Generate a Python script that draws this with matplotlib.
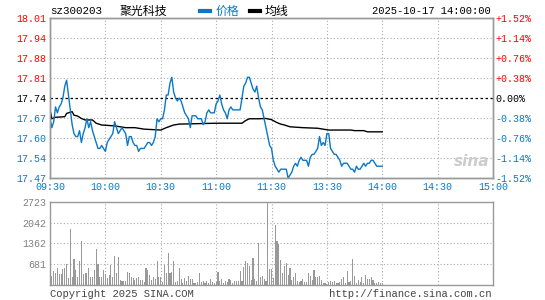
import matplotlib
matplotlib.use("Agg")
import matplotlib.pyplot as plt
import numpy as np

# ---------------- data ----------------
code = "sz300203"
name = "聚光科技"
timestamp = "2025-10-17 14:00:00"
prev_close = 17.74

price = [
    17.67, 17.64, 17.66, 17.71, 17.69, 17.71, 17.72, 17.74, 17.78, 17.80,
    17.75, 17.70, 17.65, 17.62, 17.61, 17.61, 17.63, 17.59, 17.62, 17.64,
    17.67, 17.64, 17.66, 17.63, 17.61, 17.59, 17.57, 17.57, 17.58, 17.57,
    17.56, 17.59, 17.60, 17.61, 17.62, 17.66, 17.64, 17.62, 17.63, 17.64,
    17.63, 17.62, 17.58, 17.61, 17.61, 17.59, 17.58, 17.58, 17.56, 17.57,
    17.57, 17.57, 17.58, 17.59, 17.59, 17.58, 17.59, 17.61, 17.67, 17.66,
    17.67, 17.67, 17.70, 17.75, 17.75, 17.79, 17.81, 17.76, 17.74, 17.73,
    17.74, 17.73, 17.71, 17.69, 17.68, 17.67, 17.64, 17.68, 17.68, 17.68,
    17.67, 17.67, 17.67, 17.65, 17.66, 17.69, 17.70, 17.69, 17.69, 17.69,
    17.72, 17.73, 17.75, 17.72, 17.70, 17.69, 17.67, 17.70, 17.71, 17.70,
    17.70, 17.70, 17.70, 17.70, 17.74, 17.78, 17.79, 17.81, 17.81, 17.79,
    17.77, 17.76, 17.78, 17.74, 17.71, 17.70, 17.67, 17.64, 17.61, 17.58,
    17.57, 17.53, 17.51, 17.50, 17.49, 17.50, 17.50, 17.50, 17.50, 17.47,
    17.48, 17.49, 17.51, 17.52, 17.51, 17.53, 17.54, 17.53, 17.53, 17.53,
    17.51, 17.54, 17.55, 17.55, 17.56, 17.57, 17.61, 17.58, 17.59, 17.58,
    17.62, 17.62, 17.57, 17.56, 17.55, 17.55, 17.54, 17.53, 17.51, 17.52,
    17.52, 17.52, 17.51, 17.50, 17.50, 17.49, 17.51, 17.50, 17.50, 17.51,
    17.52, 17.51, 17.52, 17.52, 17.53, 17.53, 17.52, 17.51, 17.51, 17.51,
    17.51,
]

avg_minutes = [0, 1, 3, 8, 9, 12, 13, 15, 17, 19, 23, 25, 28, 35, 41, 46, 51,
               60, 63, 67, 70, 90, 104, 106, 108, 113, 117, 120, 123, 125, 127,
               130, 137, 145, 151, 163, 165, 170, 172, 180]
avg_price = [17.700, 17.670, 17.675, 17.677, 17.688, 17.694, 17.682, 17.679,
             17.671, 17.666, 17.666, 17.655, 17.649, 17.646, 17.640, 17.640,
             17.635, 17.632, 17.640, 17.649, 17.652, 17.655, 17.655, 17.664,
             17.670, 17.670, 17.671, 17.667, 17.657, 17.652, 17.649, 17.643,
             17.640, 17.638, 17.632, 17.632, 17.630, 17.630, 17.626, 17.626]

volume = [
    1590, 296, 461, 384, 548, 362, 362, 515, 548, 691,
    219, 1832, 252, 845, 493, 274, 801, 1448, 362, 384,
    406, 548, 274, 252, 493, 1174, 691, 252, 252, 493,
    362, 219, 329, 658, 252, 954, 384, 911, 164, 142,
    142, 142, 439, 406, 252, 219, 164, 219, 252, 164,
    164, 110, 548, 493, 329, 164, 252, 186, 779, 252,
    252, 110, 669, 384, 1042, 384, 439, 779, 110, 142,
    548, 186, 77, 219, 142, 296, 186, 186, 77, 77,
    110, 384, 110, 142, 55, 142, 55, 186, 110, 77,
    110, 439, 142, 186, 77, 142, 110, 186, 164, 77,
    142, 142, 142, 471, 142, 603, 801, 735, 625, 164,
    877, 186, 142, 1371, 252, 296, 186, 142, 2723, 515,
    515, 219, 1974, 1448, 1349, 823, 384, 625, 713, 329,
    548, 164, 252, 384, 142, 110, 142, 186, 110, 110,
    406, 296, 164, 493, 252, 274, 296, 164, 55, 55,
    33, 110, 142, 110, 142, 55, 55, 110, 186, 252,
    55, 471, 110, 142, 867, 296, 55, 164, 110, 252,
    77, 329, 186, 186, 252, 164, 77, 77, 99, 77,
    55,
]

x_tick_labels = ["09:30", "10:00", "10:30", "11:00", "11:30",
                 "13:30", "14:00", "14:30", "15:00"]
price_tick_labels = ["17.47", "17.54", "17.60", "17.67", "17.74",
                     "17.81", "17.88", "17.94", "18.01"]
pct_tick_labels = ["-1.52%", "-1.14%", "-0.76%", "-0.38%", "0.00%",
                   "+0.38%", "+0.76%", "+1.14%", "+1.52%"]
pct_steps = [-4, -3, -2, -1, 0, 1, 2, 3, 4]   # multiples of 0.38 %
vol_ticks = [681, 1362, 2042, 2723]

# ---------------- style ----------------
BLUE = "#0a78c8"
RED = "#ff0000"
GREY = "#999999"
MONO = ["Liberation Mono", "DejaVu Sans Mono"]
CJK = ["Noto Sans CJK SC", "DejaVu Sans"]

W, H = 545, 300
fig = plt.figure(figsize=(W / 100, H / 100), dpi=100, facecolor="white")

def fx(px):
    return px / W

def fy(py):
    return 1 - py / H

L, R = 50, 493
ax = fig.add_axes([fx(L), fy(178), fx(R - L), (178 - 18) / H])
axv = fig.add_axes([fx(L), fy(285), fx(R - L), (285 - 202) / H])

minutes = np.arange(len(price))
step = 0.0038
ticks_price = [prev_close * (1 + k * step) for k in pct_steps]
ax.set_xlim(0, 240)
ax.set_ylim(prev_close * (1 - 4 * step), prev_close * (1 + 4 * step))

for t in ticks_price:
    if abs(t - prev_close) > 1e-9:
        ax.axhline(t, color="#aaaaaa", lw=0.8, ls=(0, (1, 2)), zorder=1)
for xm in range(30, 240, 30):
    ax.axvline(xm, color="#aaaaaa", lw=0.8, ls=(0, (1, 2)), zorder=1)
ax.axhline(prev_close, color="black", lw=0.9, ls=(0, (2, 2)), zorder=2)

ax.plot(minutes, price, color=BLUE, lw=1.0, zorder=4)
ax.plot(avg_minutes, avg_price, color="black", lw=1.0, zorder=3)

ax.set_yticks(ticks_price)
ax.set_yticklabels(price_tick_labels)
ax.set_xticks(range(0, 241, 30))
ax.set_xticklabels(x_tick_labels)
ax.tick_params(axis="both", length=0, labelsize=7.2)
ax.tick_params(axis="y", pad=3)
ax.tick_params(axis="x", pad=3)
for lbl, k in zip(ax.get_yticklabels(), pct_steps):
    lbl.set_family(MONO)
    lbl.set_color(RED if k > 0 else ("black" if k == 0 else BLUE))
for lbl in ax.get_xticklabels():
    lbl.set_family(MONO)
    lbl.set_color(BLUE)

ax2 = ax.twinx()
ax2.set_ylim(ax.get_ylim())
ax2.set_yticks(ticks_price)
ax2.set_yticklabels(pct_tick_labels)
ax2.tick_params(axis="y", length=0, labelsize=7.2, pad=2)
for lbl, k in zip(ax2.get_yticklabels(), pct_steps):
    lbl.set_family(MONO)
    lbl.set_color(RED if k > 0 else ("black" if k == 0 else BLUE))

for a in (ax, ax2, axv):
    for s in a.spines.values():
        s.set_color(GREY)
        s.set_linewidth(1.0)

axv.set_xlim(0, 240)
axv.set_ylim(0, 2723)
axv.bar(np.arange(len(volume)), volume, width=0.6, color="#999999", zorder=3)
for v in vol_ticks[:-1]:
    axv.axhline(v, color="#aaaaaa", lw=0.8, ls=(0, (1, 2)), zorder=1)
for xm in range(30, 240, 30):
    axv.axvline(xm, color="#aaaaaa", lw=0.8, ls=(0, (1, 2)), zorder=1)
axv.set_yticks(vol_ticks)
axv.set_yticklabels([str(v) for v in vol_ticks])
axv.set_xticks([])
axv.tick_params(axis="y", length=0, labelsize=7.2, pad=3)
for lbl in axv.get_yticklabels():
    lbl.set_family(MONO)
    lbl.set_color("#808080")

# header
fig.text(fx(50), fy(11), code, fontsize=7.8, family=MONO, color="black",
         ha="left", va="center")
fig.text(fx(120), fy(11), name, fontsize=8.6, family=CJK, color="black",
         ha="left", va="center")
fig.add_artist(plt.Line2D([fx(200), fx(210)], [fy(11), fy(11)], color=BLUE, lw=3))
fig.text(fx(216), fy(11), "价格", fontsize=8.6, family=CJK, color=BLUE,
         ha="left", va="center")
fig.add_artist(plt.Line2D([fx(250), fx(260)], [fy(11), fy(11)], color="black", lw=3))
fig.text(fx(265), fy(11), "均线", fontsize=8.6, family=CJK, color="black",
         ha="left", va="center")
fig.text(fx(491), fy(11), timestamp, fontsize=7.6, family=MONO, color="black",
         ha="right", va="center")

# footer
fig.text(fx(50), fy(294), "Copyright 2025 SINA.COM", fontsize=7.6, family=MONO,
         color="#444444", ha="left", va="center")
fig.text(fx(492), fy(294), "http://finance.sina.com.cn", fontsize=7.6, family=MONO,
         color="#444444", ha="right", va="center")

# watermark
fig.text(fx(472), fy(162), "sina", fontsize=11, family=["DejaVu Sans"],
         style="italic", weight="bold", color="#cccccc", ha="center", va="center")

fig.savefig("out.png", dpi=100, facecolor="white")
